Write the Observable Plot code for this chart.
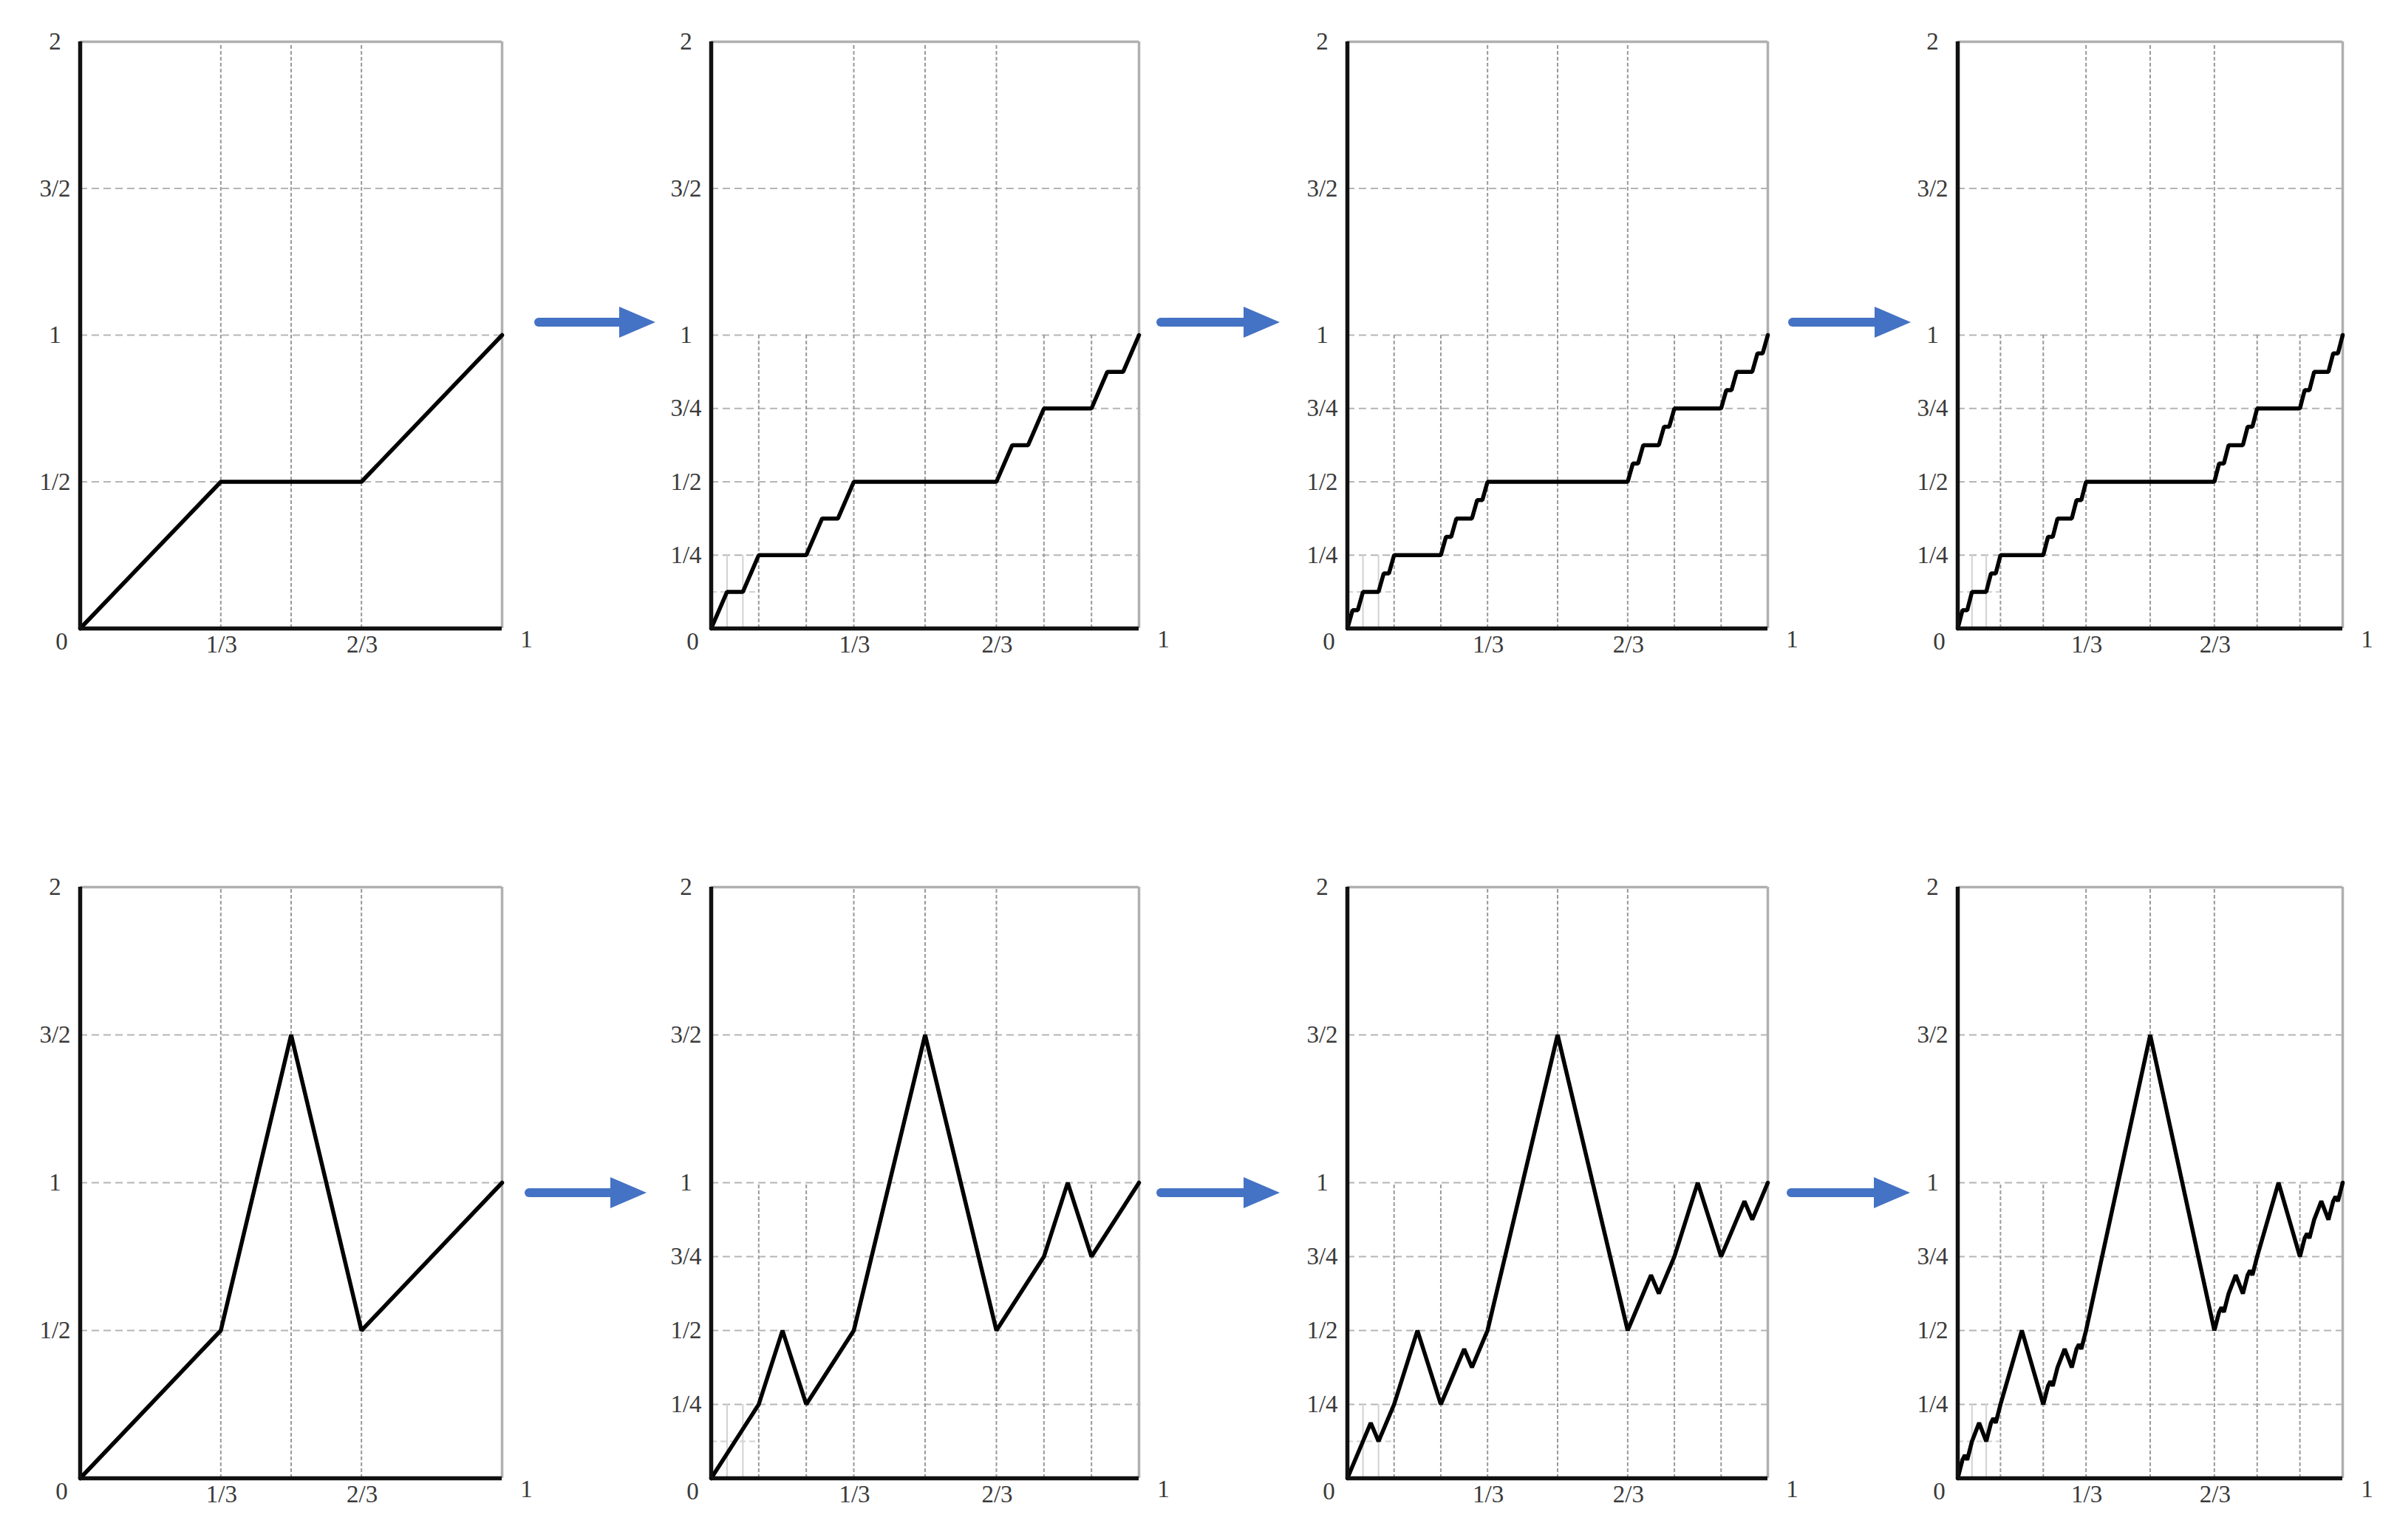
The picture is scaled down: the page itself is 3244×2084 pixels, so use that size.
<!DOCTYPE html>
<html><head><meta charset="utf-8">
<script src="https://cdn.jsdelivr.net/npm/d3@7"></script>
<script src="https://cdn.jsdelivr.net/npm/@observablehq/plot@0.6"></script>
<style>
body{margin:0;background:#fff;}
#root{position:relative;width:3244px;height:2084px;background:#fff;overflow:hidden;}
#root > svg, #root > div{position:absolute;}
</style></head><body><div id="root"></div>
<script>
// ---- series (x, y) ----
const cantor1 = [[0,0],[1/3,1/2],[2/3,1/2],[1,1]];
const cantor3 = [[0,0],[1/27,1/8],[2/27,1/8],[1/9,1/4],[2/9,1/4],[7/27,3/8],[8/27,3/8],[1/3,1/2],
  [2/3,1/2],[19/27,5/8],[20/27,5/8],[7/9,3/4],[8/9,3/4],[25/27,7/8],[26/27,7/8],[1,1]];
const cantor4 = [[0,0],[1/81,1/16],[2/81,1/16],[3/81,2/16],[6/81,2/16],[7/81,3/16],[8/81,3/16],[9/81,4/16],
  [18/81,4/16],[19/81,5/16],[20/81,5/16],[21/81,6/16],[24/81,6/16],[25/81,7/16],[26/81,7/16],[27/81,8/16],
  [54/81,8/16],[55/81,9/16],[56/81,9/16],[57/81,10/16],[60/81,10/16],[61/81,11/16],[62/81,11/16],[63/81,12/16],
  [72/81,12/16],[73/81,13/16],[74/81,13/16],[75/81,14/16],[78/81,14/16],[79/81,15/16],[80/81,15/16],[1,1]];
const cantor4b = cantor4;
const bump1 = [[0,0],[1/3,1/2],[1/2,3/2],[2/3,1/2],[1,1]];
const bump2 = [[0,0],[1/9,1/4],[1/6,1/2],[2/9,1/4],[1/3,1/2],[1/2,3/2],[2/3,1/2],[7/9,3/4],[5/6,1],[8/9,3/4],[1,1]];
const bump3 = [[0,0],[1/27,1/8],[1/18,3/16],[2/27,1/8],[1/9,1/4],[1/6,1/2],[2/9,1/4],[7/27,3/8],[5/18,7/16],[8/27,3/8],
  [1/3,1/2],[1/2,3/2],[2/3,1/2],[19/27,5/8],[13/18,11/16],[20/27,5/8],[7/9,3/4],[5/6,1],[8/9,3/4],
  [25/27,7/8],[17/18,15/16],[26/27,7/8],[1,1]];
const bump4 = [[0,0],
  [1/81,1/16],[1/54,5/64],[2/81,1/16],
  [1/27,1/8],[1/18,3/16],[2/27,1/8],
  [7/81,3/16],[5/54,13/64],[8/81,3/16],
  [1/9,1/4],[1/6,1/2],[2/9,1/4],
  [19/81,5/16],[13/54,21/64],[20/81,5/16],
  [7/27,3/8],[5/18,7/16],[8/27,3/8],
  [25/81,7/16],[17/54,29/64],[26/81,7/16],
  [1/3,1/2],[1/2,3/2],[2/3,1/2],
  [55/81,9/16],[37/54,37/64],[56/81,9/16],
  [19/27,5/8],[13/18,11/16],[20/27,5/8],
  [61/81,11/16],[41/54,45/64],[62/81,11/16],
  [7/9,3/4],[5/6,1],[8/9,3/4],
  [73/81,13/16],[49/54,53/64],[74/81,13/16],
  [25/27,7/8],[17/18,15/16],[26/27,7/8],
  [79/81,15/16],[53/54,61/64],[80/81,15/16],
  [1,1]];

// ---- tick labels ----
const yTicksCoarse = [[1/2,"1/2"],[1,"1"],[3/2,"3/2"],[2,"2"]];
const yTicksFine = [[1/4,"1/4"],[1/2,"1/2"],[3/4,"3/4"],[1,"1"],[3/2,"3/2"],[2,"2"]];
const xTicks = [[1/3,"1/3"],[2/3,"2/3"]];
const xEnd = [[1,"1"]];
const origin = [[0,"0"]];

// ---- grid positions ----
const gridHCoarse = [1/2,1,3/2];
const gridHFine = [1/4,1/2,3/4,1,3/2];
const gridVFull = [1/3,1/2,2/3];
const gridVMid = [1/9,2/9,7/9,8/9];
const gridVLow = [1/27,2/27];
const gridHLow = [1/8];

const root = document.getElementById("root");
const FONT = "'Liberation Serif', 'DejaVu Serif', serif";

function panel(series, fine, box) {
  const mL = 90, mR = 70, mT = 30, mB = 50;
  const w = box.r - box.l, h = box.b - box.t;
  const marks = [];
  marks.push(Plot.ruleY(fine ? gridHFine : gridHCoarse, {x1: 0, x2: 1, stroke: "#b5b5b5", strokeWidth: 2, strokeDasharray: "10,6"}));
  marks.push(Plot.ruleX(gridVFull, {y1: 0, y2: 2, stroke: "#9a9a9a", strokeWidth: 2, strokeDasharray: "5,3"}));
  if (fine) {
    marks.push(Plot.ruleX(gridVMid, {y1: 0, y2: 1, stroke: "#9a9a9a", strokeWidth: 2, strokeDasharray: "5,3"}));
    marks.push(Plot.ruleX(gridVLow, {y1: 0, y2: 1/4, stroke: "#d2d2d2", strokeWidth: 2}));
    marks.push(Plot.ruleY(gridHLow, {x1: 0, x2: 1/9, stroke: "#d2d2d2", strokeWidth: 2, strokeDasharray: "8,5"}));
  }
  marks.push(Plot.ruleX([1], {y1: 0, y2: 2, stroke: "#b0b0b0", strokeWidth: 3.5}));
  marks.push(Plot.ruleY([2], {x1: 0, x2: 1, stroke: "#b0b0b0", strokeWidth: 3.5}));
  marks.push(Plot.line(series, {x: d => d[0], y: d => d[1], stroke: "#000", strokeWidth: 5.5, strokeLinejoin: "miter"}));
  marks.push(Plot.ruleX([0], {y1: 0, y2: 2, stroke: "#111", strokeWidth: 5.5}));
  marks.push(Plot.ruleY([0], {x1: 0, x2: 1, stroke: "#111", strokeWidth: 5.5}));
  const txt = {fontSize: 33, fill: "#3a3a3a", fontFamily: FONT, letterSpacing: "3px"};
  marks.push(Plot.text(fine ? yTicksFine : yTicksCoarse, {x: 0, y: d => d[0], text: d => d[1], dx: -34, textAnchor: "middle", ...txt}));
  marks.push(Plot.text(origin, {x: d => d[0], y: 0, text: d => d[1], dx: -25, dy: 18, textAnchor: "middle", ...txt}));
  marks.push(Plot.text(xTicks, {x: d => d[0], y: 0, text: d => d[1], dx: 1, dy: 22, textAnchor: "middle", ...txt}));
  marks.push(Plot.text(xEnd, {x: d => d[0], y: 0, text: d => d[1], dx: 33, dy: 15, textAnchor: "middle", ...txt}));
  const svg = Plot.plot({
    width: w + mL + mR, height: h + mT + mB,
    marginLeft: mL, marginRight: mR, marginTop: mT, marginBottom: mB,
    x: {domain: [0, 1], axis: null},
    y: {domain: [0, 2], axis: null},
    style: {fontFamily: FONT, background: "transparent", overflow: "visible"},
    marks
  });
  svg.style.left = (box.l - mL) + "px";
  svg.style.top = (box.t - mT) + "px";
  root.appendChild(svg);
}

function arrow(x0, x1, y) {
  const ns = "http://www.w3.org/2000/svg";
  const svg = document.createElementNS(ns, "svg");
  svg.setAttribute("width", 3244); svg.setAttribute("height", 2084);
  svg.style.left = "0px"; svg.style.top = "0px"; svg.style.position = "absolute";
  const headL = 49, headH = 21;
  const line = document.createElementNS(ns, "line");
  line.setAttribute("x1", x0 + 6); line.setAttribute("x2", x1 - headL + 2);
  line.setAttribute("y1", y); line.setAttribute("y2", y);
  line.setAttribute("stroke", "#4472C4"); line.setAttribute("stroke-width", 12); line.setAttribute("stroke-linecap", "round");
  const poly = document.createElementNS(ns, "polygon");
  poly.setAttribute("points", `${x1 - headL},${y - headH} ${x1},${y} ${x1 - headL},${y + headH}`);
  poly.setAttribute("fill", "#4472C4");
  svg.appendChild(line); svg.appendChild(poly);
  return svg;
}

const cols = [{l: 108, r: 679}, {l: 962, r: 1541}, {l: 1823, r: 2392}, {l: 2649, r: 3170}];
const rows = [{t: 56, b: 850}, {t: 1200, b: 2000}];
const topSeries = [cantor1, cantor3, cantor4, cantor4b];
const botSeries = [bump1, bump2, bump3, bump4];
topSeries.forEach((s, i) => panel(s, i > 0, {l: cols[i].l, r: cols[i].r, t: rows[0].t, b: rows[0].b}));
botSeries.forEach((s, i) => panel(s, i > 0, {l: cols[i].l, r: cols[i].r, t: rows[1].t, b: rows[1].b}));

const arrows = document.createElement("div");
arrows.style.left = "0px"; arrows.style.top = "0px";
root.appendChild(arrows);
[[723, 887, 436], [1565, 1732, 436], [2420, 2586, 436],
 [710, 875, 1614], [1565, 1732, 1614], [2418, 2585, 1614]].forEach(a => arrows.appendChild(arrow(a[0], a[1], a[2])));
</script></body></html>
